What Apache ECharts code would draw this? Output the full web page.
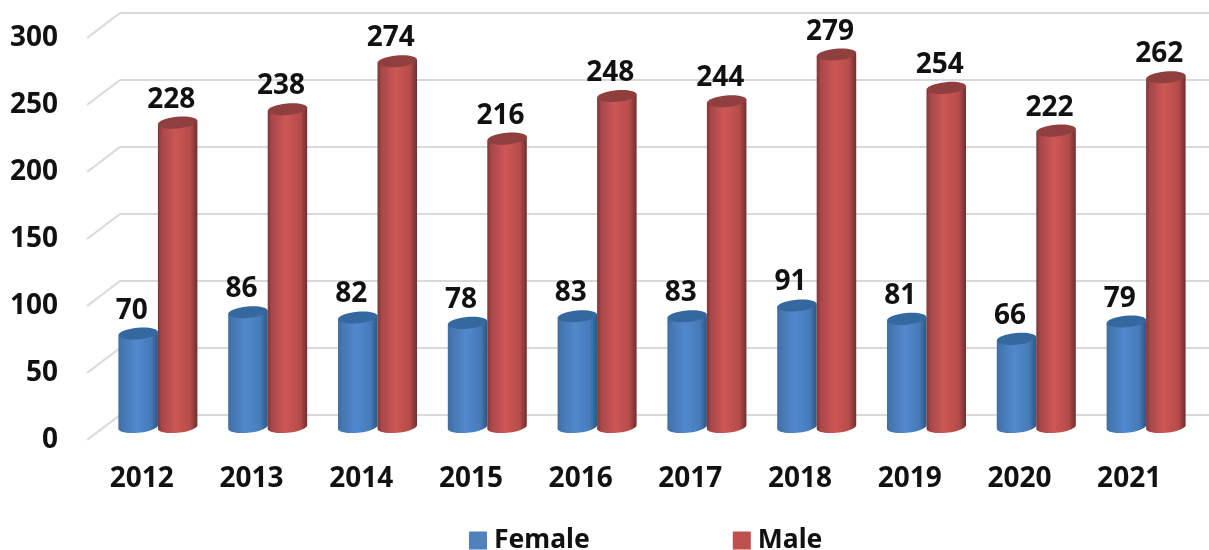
<!DOCTYPE html>
<html>
<head>
<meta charset="utf-8">
<style>
  html, body { margin: 0; padding: 0; background: #fff; }
  #chart { width: 1209px; height: 550px; }
</style>
<script src="https://cdn.jsdelivr.net/npm/echarts@6/dist/echarts.min.js"></script>
</head>
<body>
<div id="chart"></div>
<script>
// Female / male counts per year, drawn as fake 3D cylinders on a perspective wall.
const years = ['2012', '2013', '2014', '2015', '2016', '2017', '2018', '2019', '2020', '2021'];
const female = [70, 86, 82, 78, 83, 83, 91, 81, 66, 79];
const male = [228, 238, 274, 216, 248, 244, 279, 254, 222, 262];
const yTicks = [0, 50, 100, 150, 200, 250, 300];

const FONT = '"Noto Sans", sans-serif';
const GRID_LINE = '#d9d9d9';
const BAR_W = 39.5;
const TILT = 0.09;
const RY = 5.8;

function shade(stops) {
    return {
        type: 'linear', x: 0, y: 0, x2: 1, y2: 0,
        colorStops: stops.map(c => ({ offset: c[0], color: c[1] }))
    };
}

const blueBody = shade([[0, '#3f6ea3'], [0.1, '#4576b0'], [0.45, '#5189ce'], [0.82, '#467bb9'], [1, '#2c5583']]);
const redBody = shade([[0, '#7d3533'], [0.1, '#a8474a'], [0.45, '#cd5755'], [0.82, '#b54c4a'], [1, '#6f2f2d']]);

function cylinder(side, body, cap) {
    return function (params, api) {
        const idx = api.value(0);
        const val = api.value(1);
        const top = api.coord([idx, val]);
        const base = api.coord([idx, 0]);
        const cx = top[0] + side * BAR_W / 2;
        const rx = BAR_W / 2;

        // outline: flat top edge and the front half of the bottom ellipse, both tilted
        const pts = [];
        pts.push([cx - rx, top[1] + rx * TILT]);
        pts.push([cx + rx, top[1] - rx * TILT]);
        for (let a = 0; a <= 24; a++) {
            const t = Math.PI * a / 24;
            const ex = rx * Math.cos(t);
            const ey = RY * Math.sin(t);
            pts.push([cx + ex, base[1] + ey - ex * TILT]);
        }
        return {
            type: 'group',
            children: [
                { type: 'polygon', shape: { points: pts }, style: { fill: body } },
                {
                    type: 'ellipse',
                    shape: { cx: 0, cy: 0, rx: rx, ry: RY },
                    x: cx, y: top[1], rotation: TILT,
                    style: { fill: cap }
                },
                {
                    type: 'text',
                    x: cx - 6.5, y: top[1] - 23,
                    style: {
                        text: String(val), font: 'bold 28px ' + FONT, fill: '#111',
                        textAlign: 'center', textVerticalAlign: 'middle'
                    }
                }
            ]
        };
    };
}

const chart = echarts.init(document.getElementById('chart'), null, { renderer: 'canvas' });

chart.setOption({
    animation: false,
    backgroundColor: '#fff',
    // 0: back wall, 1: front edge with the axis labels, 2: cylinders
    grid: [
        { left: 120, right: 0, top: 13, height: 402 },
        { left: 87, width: 1097, top: 38, height: 402 },
        { left: 103, right: 8, top: 26.5, height: 400.5 }
    ],
    legend: {
        left: 464, top: 522,
        itemWidth: 18, itemHeight: 18, itemGap: 143,
        icon: 'rect',
        data: ['Female', 'Male'],
        textStyle: {
            color: '#111', fontFamily: FONT, fontWeight: 'bold', fontSize: 26.5,
            padding: [2, 0, 0, 2]
        }
    },
    xAxis: [
        { gridIndex: 0, type: 'category', data: years, show: false },
        {
            gridIndex: 1, type: 'category', data: years,
            axisLine: { show: false }, axisTick: { show: false },
            axisLabel: { color: '#111', fontFamily: FONT, fontWeight: 'bold', fontSize: 28, margin: 25, interval: 0 }
        },
        { gridIndex: 2, type: 'category', data: years, show: false }
    ],
    yAxis: [
        {
            gridIndex: 0, type: 'value', min: 0, max: 300, interval: 50,
            axisLine: { show: false }, axisTick: { show: false }, axisLabel: { show: false },
            splitLine: { lineStyle: { color: GRID_LINE, width: 2 } }
        },
        {
            gridIndex: 1, type: 'value', min: 0, max: 300, interval: 50,
            axisLine: { show: false }, axisTick: { show: false }, splitLine: { show: false },
            axisLabel: {
                color: '#111', fontFamily: FONT, fontWeight: 'bold', fontSize: 28, margin: 29,
                padding: [5, 0, 0, 0]
            }
        },
        {
            gridIndex: 2, type: 'value', min: 0, max: 300, interval: 50,
            show: false, splitLine: { show: false }
        }
    ],
    series: [
        {
            // slanted side wall lines, front edge to back wall
            name: 'wall', type: 'custom', xAxisIndex: 1, yAxisIndex: 1, silent: true, z: 1,
            data: yTicks.map(v => [0, v]),
            renderItem: function (params, api) {
                const p = api.coord([0, api.value(1)]);
                const x = params.coordSys.x;
                return {
                    type: 'line',
                    shape: { x1: x, y1: p[1], x2: x + 33, y2: p[1] - 25 },
                    style: { stroke: GRID_LINE, lineWidth: 2 }
                };
            }
        },
        {
            name: 'Female', type: 'custom', xAxisIndex: 2, yAxisIndex: 2, z: 3,
            itemStyle: { color: '#4f81bd' },
            data: female.map((v, i) => [i, v]),
            renderItem: cylinder(-1, blueBody, '#35689f')
        },
        {
            name: 'Male', type: 'custom', xAxisIndex: 2, yAxisIndex: 2, z: 4,
            itemStyle: { color: '#c0504d' },
            data: male.map((v, i) => [i, v]),
            renderItem: cylinder(1, redBody, '#8f3f3d')
        }
    ]
});
</script>
</body>
</html>
